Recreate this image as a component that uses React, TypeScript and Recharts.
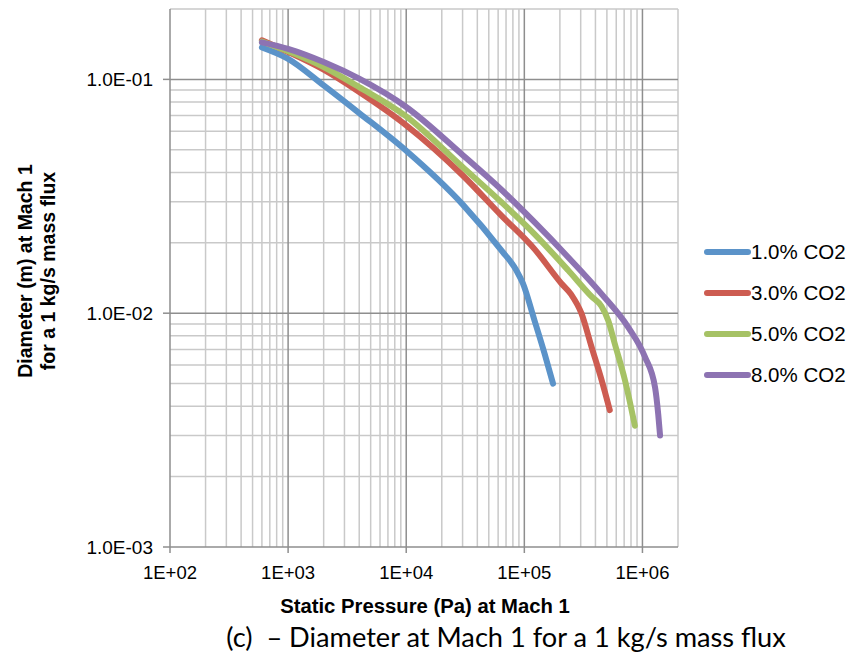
import React from 'react';
import { LineChart, Line, XAxis, YAxis, ReferenceLine } from 'recharts';

// static pressure (Pa) and diameter (m)
const p1 = [600, 1000, 2000, 4000, 10000, 30000, 63700, 85300, 97300, 122000, 148600, 175000];
const d1 = [0.137, 0.1225, 0.0943, 0.0718, 0.0495, 0.0292, 0.0186, 0.0153, 0.0134, 0.0093, 0.0067, 0.005];

const p3 = [600, 1000, 2000, 4000, 10000, 30000, 63700, 122000, 206000, 250000, 304000, 370000, 450000, 529000];
const d3 = [0.147, 0.131, 0.11, 0.0883, 0.0636, 0.0389, 0.0262, 0.0188, 0.0134, 0.012, 0.01, 0.0072, 0.0052, 0.00385];

const p5 = [600, 1000, 2000, 4000, 10000, 30000, 63700, 122000, 234000, 370000, 450000, 513000, 583000, 709000, 863000];
const d5 = [0.145, 0.132, 0.113, 0.0927, 0.0695, 0.0422, 0.0299, 0.0218, 0.0153, 0.0118, 0.0107, 0.0093, 0.0074, 0.0052, 0.0033];

const p8 = [600, 1000, 2000, 4000, 10000, 30000, 63700, 122000, 234000, 450000, 759000, 1050000, 1280000, 1360000, 1410000];
const d8 = [0.144, 0.135, 0.1186, 0.1007, 0.0762, 0.0475, 0.0338, 0.0245, 0.0174, 0.0121, 0.0087, 0.0065, 0.0048, 0.0037, 0.003];

const seriesNames = ['1.0% CO2', '3.0% CO2', '5.0% CO2', '8.0% CO2'];
const colors = ['#5B93C9', '#CD5C51', '#A6C265', '#8D73B2'];

const xTicks = [100, 1000, 10000, 100000, 1000000];
const yTicks = [0.001, 0.01, 0.1];
const xMajor = [1000, 10000, 100000, 1000000];
const yMajor = [0.01, 0.1];
const xMinor = [
  200, 300, 400, 500, 600, 700, 800, 900,
  2000, 3000, 4000, 5000, 6000, 7000, 8000, 9000,
  20000, 30000, 40000, 50000, 60000, 70000, 80000, 90000,
  200000, 300000, 400000, 500000, 600000, 700000, 800000, 900000,
  2000000,
];
const yMinor = [
  0.002, 0.003, 0.004, 0.005, 0.006, 0.007, 0.008, 0.009,
  0.02, 0.03, 0.04, 0.05, 0.06, 0.07, 0.08, 0.09,
  0.2,
];

const toRows = (p: number[], d: number[]) => p.map((x, i) => ({ x, y: d[i] }));
const series = [toRows(p1, d1), toRows(p3, d3), toRows(p5, d5), toRows(p8, d8)];

const font = '"Liberation Sans", Arial, sans-serif';
const minorColor = '#c9c9c9';
const majorColor = '#8e8e8e';

const fmtX = (v: number) => '1E+' + String(Math.round(Math.log10(v))).padStart(2, '0');
const fmtY = (v: number) => '1.0E-' + String(-Math.round(Math.log10(v))).padStart(2, '0');

const App: React.FC = () => {
  return (
    <div style={{ position: 'absolute', left: 0, top: 0, width: 852, height: 660, background: '#fff', fontFamily: font }}>
      <LineChart width={852} height={660} margin={{ top: 9, right: 174, bottom: 53, left: 90 }}>
        <XAxis
          dataKey="x"
          type="number"
          scale="log"
          domain={[100, 2000000]}
          allowDataOverflow
          ticks={xTicks}
          tickFormatter={fmtX}
          height={60}
          tickSize={6}
          tickMargin={13}
          stroke={majorColor}
          strokeWidth={1.5}
          tick={{ fill: '#000', fontSize: 18.5, fontFamily: font }}
        />
        <YAxis
          dataKey="y"
          type="number"
          scale="log"
          domain={[0.001, 0.2]}
          allowDataOverflow
          ticks={yTicks}
          tickFormatter={fmtY}
          width={80}
          tickSize={7}
          tickMargin={10}
          stroke={majorColor}
          strokeWidth={1.5}
          tick={{ fill: '#000', fontSize: 19, fontFamily: font }}
        />
        {xMinor.map(v => (
          <ReferenceLine key={'xm' + v} x={v} stroke={minorColor} strokeWidth={1.5} />
        ))}
        {yMinor.map(v => (
          <ReferenceLine key={'ym' + v} y={v} stroke={minorColor} strokeWidth={1.5} />
        ))}
        {xMajor.map(v => (
          <ReferenceLine key={'xM' + v} x={v} stroke={majorColor} strokeWidth={1.5} />
        ))}
        {yMajor.map(v => (
          <ReferenceLine key={'yM' + v} y={v} stroke={majorColor} strokeWidth={1.5} />
        ))}
        {series.map((rows, i) => (
          <Line
            key={seriesNames[i]}
            data={rows}
            dataKey="y"
            name={seriesNames[i]}
            type="monotone"
            stroke={colors[i]}
            strokeWidth={6}
            strokeLinecap="round"
            strokeLinejoin="round"
            dot={false}
            isAnimationActive={false}
          />
        ))}
      </LineChart>

      {/* legend */}
      <div style={{ position: 'absolute', left: 704, top: 232 }}>
        {seriesNames.map((n, i) => (
          <div key={n} style={{ display: 'flex', alignItems: 'center', height: 40.8 }}>
            <div style={{ width: 47, height: 6, borderRadius: 3, background: colors[i] }} />
            <span style={{ fontSize: 20.5, color: '#000', marginLeft: 0, whiteSpace: 'nowrap' }}>{n}</span>
          </div>
        ))}
      </div>

      {/* y axis title */}
      <div
        style={{
          position: 'absolute',
          left: 37,
          top: 271,
          transform: 'translate(-50%, -50%) rotate(-90deg)',
          fontSize: 19.5,
          fontWeight: 'bold',
          textAlign: 'center',
          lineHeight: '23px',
          whiteSpace: 'nowrap',
          color: '#000',
        }}
      >
        Diameter (m) at Mach 1
        <br />
        for a 1 kg/s mass flux
      </div>

      {/* x axis title */}
      <div
        style={{
          position: 'absolute',
          left: 425,
          top: 606,
          transform: 'translate(-50%, -50%)',
          fontSize: 20.3,
          fontWeight: 'bold',
          whiteSpace: 'nowrap',
          color: '#000',
        }}
      >
        Static Pressure (Pa) at Mach 1
      </div>

      {/* caption */}
      <div
        style={{
          position: 'absolute',
          left: 506,
          top: 636,
          transform: 'translate(-50%, -50%)',
          fontSize: 27.2,
          fontFamily: 'Lato, "Open Sans", sans-serif',
          whiteSpace: 'pre',
          color: '#000',
        }}
      >
        {'(c)  \u2013 Diameter at Mach 1 for a 1 kg/s mass flux'}
      </div>
    </div>
  );
};

export default App;
